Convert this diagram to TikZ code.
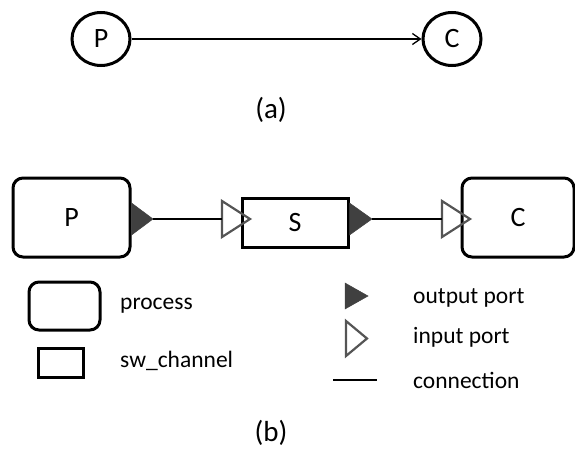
\documentclass[tikz,border=0pt]{standalone}
\usepackage{fontspec}
\setmainfont{Carlito}
\usetikzlibrary{arrows.meta,shapes.geometric}
\definecolor{portdark}{HTML}{404040}
\definecolor{portgray}{HTML}{555555}
\begin{document}
\begin{tikzpicture}[x=1pt,y=-1pt,
  circ/.style={ellipse,draw,line width=3pt,minimum width=58pt,minimum height=53pt,inner sep=0pt,font=\fontsize{28}{28}\selectfont},
  procbox/.style={draw,line width=3pt,rounded corners=10pt,inner sep=0pt,font=\fontsize{28}{28}\selectfont},
  chanbox/.style={draw,line width=3pt,inner sep=0pt,font=\fontsize{28}{28}\selectfont},
  conn/.style={line width=1.3pt},
  outport/.style={fill=portdark,draw=portdark,line width=0.5pt,line join=miter},
  inport/.style={draw=portgray,line width=2.2pt,line join=miter},
  legtext/.style={anchor=base west,inner sep=0pt,font=\fontsize{23.5}{23.5}\selectfont},
  caption/.style={inner sep=0pt,font=\fontsize{29}{29}\selectfont}]
\useasboundingbox (0,0) rectangle (575,450);
% (a)
\node[circ] (pa) at (101,39) {P};
\node[circ] (ca) at (452,39) {C};
\draw[conn,-{Straight Barb[length=8pt,width=11pt,line width=1.3pt]}] (pa) -- (ca);
\node[caption] (capa) at (271,110) {(a)};
% (b)
\node[procbox,minimum width=117pt,minimum height=79pt] (pb) at (71.5,217.5) {P};
\node[chanbox,minimum width=106pt,minimum height=49pt] (sb) at (295,222.5) {S};
\node[procbox,minimum width=112pt,minimum height=79pt] (cb) at (518,217.5) {C};
% ports
\coordinate (pout) at (153,219);
\coordinate (sin) at (222,219);
\coordinate (sout) at (372,219);
\coordinate (cin) at (442,219);
\draw[outport] (pb.east |- 0,203) -- (pout) -- (pb.east |- 0,235) -- cycle;
\draw[outport] (sb.east |- 0,203) -- (sout) -- (sb.east |- 0,235) -- cycle;
\draw[inport] (222,201) -- (250,219) -- (222,237) -- cycle;
\draw[inport] (442,201) -- (470,219) -- (442,237) -- cycle;
\draw[conn] (pout) -- (sin);
\draw[conn] (sout) -- (cin);
% legend
\node[procbox,minimum width=71pt,minimum height=48pt] (lproc) at (64.5,306) {};
\node[legtext] (tproc) at (120,309) {process};
\node[chanbox,minimum width=45pt,minimum height=29pt] (lchan) at (60.5,362.5) {};
\node[legtext] (tchan) at (120,367) {sw\_channel};
\draw[outport] (345,283) -- (368,296) -- (345,309) -- cycle;
\node[legtext] (tout) at (413,303) {output port};
\draw[inport] (346,321) -- (367,338.5) -- (346,356) -- cycle;
\node[legtext] (tin) at (413,343) {input port};
\coordinate (la) at (333,380);
\coordinate (lb) at (377,380);
\draw[conn] (la) -- (lb);
\node[legtext] (tconn) at (413,388) {connection};
\node[caption] (capb) at (271,433) {(b)};
\end{tikzpicture}
\end{document}
